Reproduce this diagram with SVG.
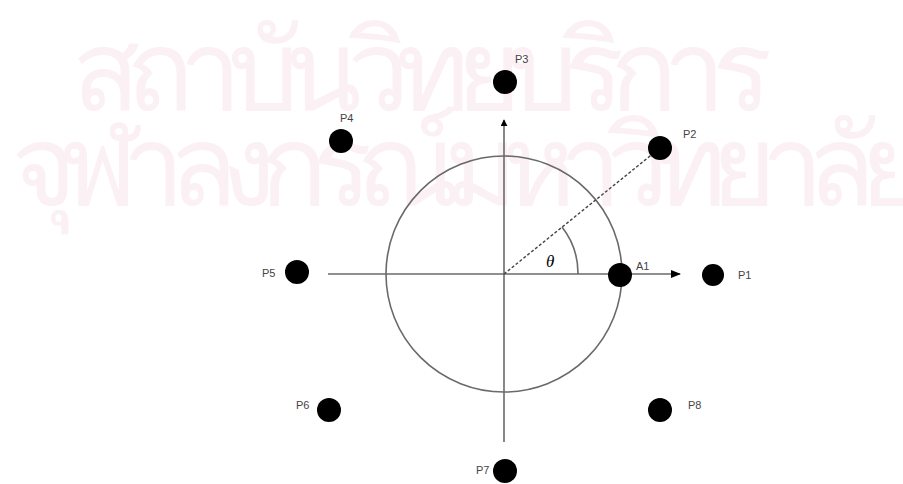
<svg xmlns="http://www.w3.org/2000/svg" width="903" height="484" viewBox="0 0 903 484">
<style>
.wm{font-family:"Noto Sans","DejaVu Sans",sans-serif;fill:#fbf0f4;font-size:112px;font-weight:300}
.lbl{font-family:"Liberation Sans",Arial,sans-serif;font-size:11px;fill:#444}
.dot{fill:#000}
.ax{stroke:#6a6a6a;stroke-width:1.6;fill:none}
</style>
<defs>
<marker id="ah" viewBox="0 0 10 10" refX="9" refY="5" markerWidth="7" markerHeight="7" markerUnits="userSpaceOnUse" orient="auto"><path d="M0,0L10,5L0,10z" fill="#000"/></marker>
<marker id="ah2" viewBox="0 0 10 10" refX="9" refY="5" markerWidth="10" markerHeight="10" markerUnits="userSpaceOnUse" orient="auto"><path d="M0,1L10,5L0,9z" fill="#000"/></marker>
</defs>
<rect width="903" height="484" fill="#fff"/>
<g id="watermark">
<text class="wm" x="72" y="110" textLength="700">สถาบันวิทยบริการ</text>
<text class="wm" x="-5" y="205" textLength="915">จุฬาลงกรณ์มหาวิทยาลัย</text>
</g>
<g id="connectors">
<circle class="ax" cx="504" cy="274" r="118"/>
<line class="ax" x1="504" y1="442" x2="504" y2="120" marker-end="url(#ah)"/>
<line class="ax" x1="328" y1="274" x2="680" y2="274" marker-end="url(#ah2)"/>
<line x1="504" y1="274" x2="660" y2="148" stroke="#444" stroke-width="1.4" stroke-dasharray="3,2"/>
<path class="ax" d="M578,274 A75,75 0 0 0 562,227" stroke-width="1.3"/>
</g>
<g id="A1"><circle class="dot" cx="620" cy="275" r="12"/><text class="lbl" x="636" y="270">A1</text></g>
<g id="P1"><circle class="dot" cx="713" cy="275" r="11"/><text class="lbl" x="738" y="279">P1</text></g>
<g id="P2"><circle class="dot" cx="660" cy="148" r="12"/><text class="lbl" x="683" y="138">P2</text></g>
<g id="P3"><circle class="dot" cx="505" cy="82" r="12"/><text class="lbl" x="515" y="63">P3</text></g>
<g id="P4"><circle class="dot" cx="341" cy="141" r="12"/><text class="lbl" x="340" y="122">P4</text></g>
<g id="P5"><circle class="dot" cx="297" cy="272" r="12"/><text class="lbl" x="262" y="277">P5</text></g>
<g id="P6"><circle class="dot" cx="329" cy="410" r="12"/><text class="lbl" x="296" y="409">P6</text></g>
<g id="P7"><circle class="dot" cx="505" cy="471" r="12"/><text class="lbl" x="476" y="474">P7</text></g>
<g id="P8"><circle class="dot" cx="660" cy="410" r="12"/><text class="lbl" x="688" y="409">P8</text></g>
<g id="theta"><text x="546" y="267" font-family="Liberation Serif,serif" font-style="italic" font-size="17" fill="#000">θ</text></g>
</svg>
